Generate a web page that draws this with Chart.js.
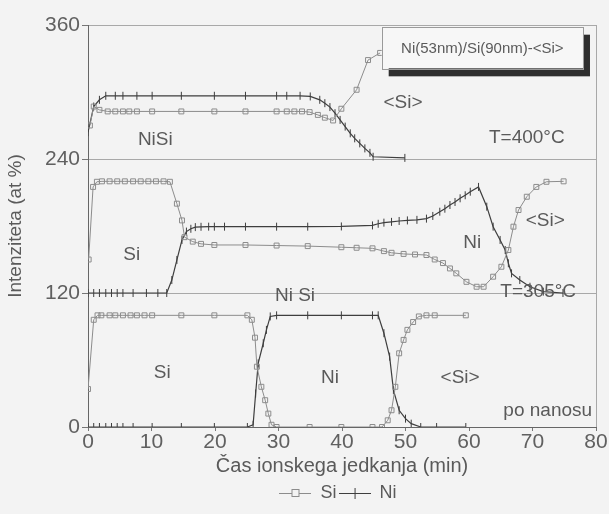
<!DOCTYPE html>
<html>
<head>
<meta charset="utf-8">
<script src="https://cdn.jsdelivr.net/npm/chart.js@4.4.0/dist/chart.umd.min.js"></script>
<style>
  html, body { margin: 0; padding: 0; background: #f3f3f3; }
  #wrap { width: 609px; height: 514px; }
</style>
</head>
<body>
<div id="wrap"><canvas id="c" width="609" height="514"></canvas></div>
<script>
const xTicks = [0, 10, 20, 30, 40, 50, 60, 70, 80];
const yTicks = [0, 120, 240, 360];

// po nanosu (0-100)
const siBottomTime = [0, 0.9, 1.5, 2.1, 3.4, 4.3, 5.5, 6.7, 7.7, 8.9, 10.1, 14.7, 19.9, 25.1, 25.8, 26.3, 26.6, 27.3, 27.9, 28.4, 28.9, 29.7, 34.9, 39.9, 44.8, 46.3, 47.2, 47.8, 48.4, 49.0, 49.7, 50.3, 51.2, 52.1, 53.3, 54.6, 59.5];
const siBottom = [34, 96, 100, 100, 100, 100, 100, 100, 100, 100, 100, 100, 100, 100, 96, 80, 54, 36, 24, 12, 2, 0, 0, 0, 0, 0, 6, 15, 36, 66, 78, 87, 94, 99, 100, 100, 100];
const niBottomTime = [0, 0.9, 1.8, 2.8, 3.7, 4.6, 5.5, 7.1, 10.1, 14.7, 19.9, 25.1, 26.0, 26.4, 26.8, 27.6, 28.1, 28.7, 29.7, 34.6, 39.9, 44.8, 45.7, 46.6, 47.5, 48.1, 49.0, 50.0, 50.9, 52.4, 54.9, 59.5];
const niBottom = [0, 0, 0, 0, 0, 0, 0, 0, 0, 0, 0, 0, 2, 30, 57, 75, 87, 99, 100, 100, 100, 100, 100, 84, 63, 33, 15, 7.5, 3, 0, 0, 0];

// T=305°C (shifted by 120)
const siMidTime = [0.1, 0.8, 1.4, 2.2, 3.4, 4.6, 5.8, 7.1, 8.3, 9.5, 10.7, 11.9, 12.9, 14.0, 14.8, 15.2, 16.5, 17.8, 19.9, 24.8, 29.7, 34.6, 39.9, 42.3, 44.8, 46.6, 47.8, 49.7, 51.5, 53.3, 54.6, 55.9, 57.0, 58.0, 59.6, 61.2, 62.3, 63.8, 65.1, 66.2, 67.0, 67.8, 69.1, 70.6, 72.2, 74.9];
const siMid = [150, 215, 219.6, 220, 220, 220, 220, 220, 220, 220, 220, 220, 219.6, 200, 185, 170, 166, 164, 163, 163, 162.5, 162, 161, 160.5, 160, 157.5, 156, 155, 154.5, 154, 150, 146.8, 142, 137.6, 130, 125.6, 125.6, 134.6, 143.5, 158.5, 179.4, 194.3, 206.2, 215, 219.6, 220];
const niMidTime = [0, 0.9, 1.8, 2.8, 3.7, 4.6, 5.5, 7.1, 9.2, 11.0, 12.4, 13.2, 14.0, 14.8, 15.5, 16.2, 16.9, 17.8, 19.0, 19.9, 21.5, 24.8, 29.7, 34.6, 39.9, 44.8, 45.7, 46.6, 47.8, 49.0, 50.3, 51.8, 53.3, 54.3, 55.4, 56.2, 57.0, 57.8, 58.6, 59.4, 60.2, 61.5, 62.8, 63.8, 64.9, 65.7, 66.2, 66.7, 68.0, 69.6, 71.7, 74.8];
const niMid = [120, 120, 120, 120, 120, 120, 120, 120, 120, 120, 120, 131.6, 149.6, 167.5, 175, 177.5, 179, 179.3, 179.4, 179.4, 179.4, 179.4, 179.4, 179.4, 179.6, 180.5, 182, 183, 183.7, 184.5, 185, 185.5, 186.6, 189, 192.8, 195.5, 198.8, 201.5, 204.8, 207.5, 210.7, 215, 197.3, 179.4, 167.5, 158.5, 146.6, 137.6, 131.6, 125.6, 121.2, 120];

// T=400°C (shifted by 240)
const siTopTime = [0.3, 0.9, 1.8, 3.1, 4.3, 5.5, 6.5, 7.7, 10.1, 14.7, 19.9, 24.8, 29.7, 31.3, 32.5, 33.7, 34.9, 36.2, 37.3, 38.6, 39.9, 42.3, 44.1, 46.0];
const siTop = [270, 287, 284, 282.6, 282.6, 282.6, 282.6, 282.6, 282.6, 282.6, 282.6, 282.6, 282.6, 282.6, 282.6, 282.6, 282, 279.5, 277, 274.5, 285, 302, 328.6, 335];
const niTopTime = [0, 0.9, 1.8, 2.8, 4.3, 5.5, 7.7, 10.1, 14.7, 19.9, 24.8, 29.7, 31.3, 33.4, 35.0, 36.5, 37.3, 38.1, 38.9, 39.7, 40.5, 41.3, 42.0, 42.8, 43.6, 44.4, 44.9, 49.9];
const niTop = [264, 287, 293, 296.6, 296.6, 296.6, 296.6, 296.6, 296.6, 296.6, 296.6, 296.6, 296.6, 296.6, 296, 293, 290, 286.5, 281, 275, 269, 263, 258.5, 254, 249.5, 245.5, 242, 241];

const notes = [
  { text: 'NiSi', x: 10.6, y: 257 },
  { text: '<Si>', x: 49.6, y: 290 },
  { text: 'T=400°C', x: 69.1, y: 258.8 },
  { text: 'Si', x: 6.9, y: 154 },
  { text: 'Ni Si', x: 32.6, y: 117.3 },
  { text: 'Ni', x: 60.5, y: 164.8 },
  { text: '<Si>', x: 72, y: 184.5 },
  { text: 'T=305°C', x: 70.9, y: 120.9 },
  { text: 'Si', x: 11.7, y: 48.4 },
  { text: 'Ni', x: 38.1, y: 43.9 },
  { text: '<Si>', x: 58.6, y: 43.9 },
  { text: 'po nanosu', x: 72.4, y: 14.3 }
];
const sampleLabel = 'Ni(53nm)/Si(90nm)-<Si>';
const sampleBox = { x0: 46.25, x1: 77.95, y0: 358.5, y1: 321.2 };

const FONT = '"Liberation Sans", Arial, sans-serif';
const SI_COLOR = '#8c8c8c';
const NI_COLOR = '#3e3e3e';
const TEXT_COLOR = '#5a5a5a';

function points(times, values) {
  return times.map((t, i) => ({ x: t, y: values[i] }));
}
// a null point breaks the line between bands
const gap = { x: 0, y: null };

function legendIcon(kind, color) {
  const c = document.createElement('canvas');
  c.width = 32; c.height = 12;
  const g = c.getContext('2d');
  g.strokeStyle = color; g.lineWidth = 1;
  g.beginPath(); g.moveTo(0, 6.5); g.lineTo(32, 6.5); g.stroke();
  if (kind === 'rect') {
    g.fillStyle = '#f3f3f3';
    g.fillRect(12.5, 2.5, 7, 7);
    g.strokeRect(12.5, 2.5, 7, 7);
  } else {
    g.beginPath(); g.moveTo(16.5, 1); g.lineTo(16.5, 12); g.stroke();
  }
  return c;
}

const decor = {
  id: 'decor',
  afterLayout(chart) {
    // legend sits a little right of centre
    chart.legend.left += 38;
    chart.legend.right += 38;
  },
  beforeDatasetsDraw(chart) {
    const { ctx, chartArea: a } = chart;
    ctx.save();
    ctx.strokeStyle = '#a8a8a8';
    ctx.lineWidth = 1;
    ctx.beginPath();
    ctx.moveTo(Math.round(a.right) + 0.5, a.top);
    ctx.lineTo(Math.round(a.right) + 0.5, a.bottom);
    ctx.stroke();
    ctx.restore();
  },
  afterDatasetsDraw(chart) {
    const { ctx, scales: { x, y } } = chart;
    ctx.save();
    ctx.fillStyle = TEXT_COLOR;
    ctx.font = '19px ' + FONT;
    ctx.textAlign = 'center';
    ctx.textBaseline = 'middle';
    notes.forEach(n => ctx.fillText(n.text, x.getPixelForValue(n.x), y.getPixelForValue(n.y)));

    // sample label box with drop shadow
    const l = x.getPixelForValue(sampleBox.x0), r = x.getPixelForValue(sampleBox.x1);
    const t = y.getPixelForValue(sampleBox.y0), b = y.getPixelForValue(sampleBox.y1);
    ctx.fillStyle = '#2e2e2e';
    ctx.fillRect(l + 7, t + 8, r - l, b - t);
    ctx.fillStyle = '#f7f7f7';
    ctx.fillRect(l, t, r - l, b - t);
    ctx.strokeStyle = '#9a9a9a';
    ctx.lineWidth = 1;
    ctx.strokeRect(Math.round(l) + 0.5, Math.round(t) + 0.5, Math.round(r - l), Math.round(b - t));
    ctx.fillStyle = TEXT_COLOR;
    ctx.font = '15px ' + FONT;
    ctx.fillText(sampleLabel, (l + r) / 2, (t + b) / 2 + 1);
    ctx.restore();
  }
};

new Chart(document.getElementById('c'), {
  type: 'scatter',
  data: {
    datasets: [
      {
        label: 'Si',
        data: [...points(siBottomTime, siBottom), gap, ...points(siMidTime, siMid), gap, ...points(siTopTime, siTop)],
        showLine: true,
        spanGaps: false,
        borderColor: SI_COLOR,
        borderWidth: 1,
        pointStyle: 'rect',
        pointRadius: 3.5,
        pointBorderWidth: 1,
        pointBorderColor: SI_COLOR,
        pointBackgroundColor: 'rgba(0,0,0,0)'
      },
      {
        label: 'Ni',
        data: [...points(niBottomTime, niBottom), gap, ...points(niMidTime, niMid), gap, ...points(niTopTime, niTop)],
        showLine: true,
        spanGaps: false,
        borderColor: NI_COLOR,
        borderWidth: 1.2,
        pointStyle: 'line',
        pointRotation: 90,
        pointRadius: 4,
        pointBorderWidth: 1,
        pointBorderColor: NI_COLOR
      }
    ]
  },
  options: {
    responsive: false,
    animation: false,
    layout: { padding: { left: 4, right: 13, top: 25, bottom: 2 } },
    plugins: {
      legend: {
        position: 'bottom',
        labels: {
          usePointStyle: true,
          pointStyleWidth: 32,
          padding: 2,
          color: TEXT_COLOR,
          font: { family: FONT, size: 18 },
          generateLabels(chart) {
            return chart.data.datasets.map((ds, i) => ({
              text: ds.label,
              datasetIndex: i,
              fontColor: TEXT_COLOR,
              pointStyle: legendIcon(i === 0 ? 'rect' : 'cross', ds.borderColor),
              lineWidth: 0,
              strokeStyle: 'rgba(0,0,0,0)',
              fillStyle: 'rgba(0,0,0,0)'
            }));
          }
        }
      },
      tooltip: { enabled: false }
    },
    scales: {
      x: {
        type: 'linear',
        min: 0, max: 80,
        afterBuildTicks: s => { s.ticks = xTicks.map(v => ({ value: v })); },
        afterFit: s => { s.height = 55; },
        grid: { drawOnChartArea: false, tickLength: 4, tickColor: '#777' },
        border: { color: '#666', width: 1 },
        ticks: { color: '#606060', font: { family: FONT, size: 21 }, padding: -1, maxRotation: 0 },
        title: { display: true, text: 'Čas ionskega jedkanja (min)', color: TEXT_COLOR, font: { family: FONT, size: 20 }, padding: { top: 0 } }
      },
      y: {
        min: 0, max: 360,
        afterBuildTicks: s => { s.ticks = yTicks.map(v => ({ value: v })); },
        afterFit: s => { s.width = 84; },
        grid: { color: '#a8a8a8', tickLength: 6, tickColor: '#777' },
        border: { color: '#666', width: 1 },
        ticks: { color: '#606060', font: { family: FONT, size: 21 }, padding: 2 },
        title: { display: true, text: 'Intenziteta (at %)', color: TEXT_COLOR, font: { family: FONT, size: 19 }, padding: 0 }
      }
    }
  },
  plugins: [decor]
});
</script>
</body>
</html>
